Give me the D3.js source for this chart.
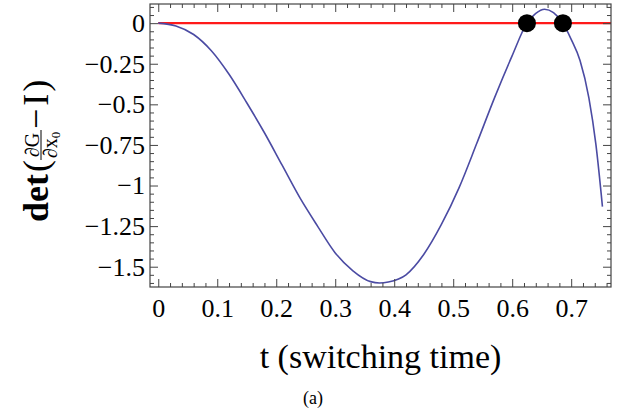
<!DOCTYPE html>
<html>
<head>
<meta charset="utf-8">
<script src="https://cdn.jsdelivr.net/npm/d3@7"></script>
<style>
  body { margin: 0; background: #fff; }
  svg { display: block; }
  text { font-family: "Liberation Serif", "Times New Roman", serif; fill: #000; }
</style>
</head>
<body>
<svg id="chart" width="624" height="413"></svg>
<script>
// switching time t and det(dG/dx0 - I)
var tValues = [0, 0.03, 0.06, 0.09, 0.12, 0.15, 0.18, 0.21, 0.24, 0.27, 0.30, 0.33, 0.36, 0.375,
  0.39, 0.42, 0.45, 0.48, 0.51, 0.54, 0.57, 0.60, 0.625, 0.64, 0.655, 0.67, 0.686, 0.70, 0.715, 0.73, 0.742, 0.753];
var detValues = [0, -0.017, -0.07, -0.17, -0.315, -0.49, -0.675, -0.875, -1.075, -1.25, -1.415, -1.525, -1.592, -1.6,
  -1.594, -1.55, -1.425, -1.24, -1.013, -0.74, -0.46, -0.2, 0, 0.06, 0.086, 0.065, 0, -0.1, -0.23, -0.46, -0.75, -1.13];
var rootTimes = [0.625, 0.686];
var xTicks = [0, 0.1, 0.2, 0.3, 0.4, 0.5, 0.6, 0.7];
var yTicks = [0, -0.25, -0.5, -0.75, -1, -1.25, -1.5];

var svg = d3.select('#chart');
var mLeft = 150, mRight = 611, mTop = 4, mBottom = 287;

var x = d3.scaleLinear().domain([-0.014, 0.7675]).range([mLeft, mRight]);
var y = d3.scaleLinear().domain([-1.625, 0.118]).range([mBottom, mTop]);

var xMinor = d3.range(0, 0.77, 0.02).filter(function (d) { return Math.abs(d * 10 - Math.round(d * 10)) > 1e-6; });
var yMinor = d3.range(0.1, -1.63, -0.05).filter(function (d) { return Math.abs(d * 4 - Math.round(d * 4)) > 1e-6; });

var fmt = function (d) { return d < 0 ? '\u2212' + d3.format('')(-d) : d3.format('')(d); };

// red zero line
svg.append('line')
  .attr('x1', x(0)).attr('x2', mRight)
  .attr('y1', y(0)).attr('y2', y(0))
  .attr('stroke', '#ff1a1a')
  .attr('stroke-width', 2.2);

// determinant curve
var line = d3.line()
  .x(function (d) { return x(d[0]); })
  .y(function (d) { return y(d[1]); })
  .curve(d3.curveMonotoneX);

svg.append('path')
  .datum(d3.zip(tValues, detValues))
  .attr('d', line)
  .attr('fill', 'none')
  .attr('stroke', '#4b4ba3')
  .attr('stroke-width', 1.6);

// roots
svg.selectAll('circle.root')
  .data(rootTimes)
  .enter().append('circle')
  .attr('class', 'root')
  .attr('cx', function (d) { return x(d); })
  .attr('cy', y(0))
  .attr('r', 9)
  .attr('fill', '#000');

// frame ticks, all inward
function addAxis(axis, tx, ty) {
  var g = svg.append('g').attr('transform', 'translate(' + tx + ',' + ty + ')').call(axis);
  g.select('.domain').remove();
  g.selectAll('line').attr('stroke', '#444');
  g.selectAll('text').style('font-family', '"Liberation Serif", serif').attr('fill', '#000');
  return g;
}

var gb = addAxis(d3.axisBottom(x).tickValues(xTicks).tickFormat(fmt).tickSize(-8).tickPadding(12), 0, mBottom);
gb.selectAll('text').style('font-size', '26px');
addAxis(d3.axisBottom(x).tickValues(xMinor).tickFormat('').tickSize(-4), 0, mBottom);
addAxis(d3.axisTop(x).tickValues(xTicks).tickFormat('').tickSize(-8), 0, mTop);
addAxis(d3.axisTop(x).tickValues(xMinor).tickFormat('').tickSize(-4), 0, mTop);

var gl = addAxis(d3.axisLeft(y).tickValues(yTicks).tickFormat(fmt).tickSize(-8).tickPadding(5), mLeft, 0);
gl.selectAll('text').style('font-size', '26px');
addAxis(d3.axisLeft(y).tickValues(yMinor).tickFormat('').tickSize(-4), mLeft, 0);
addAxis(d3.axisRight(y).tickValues(yTicks).tickFormat('').tickSize(-8), mRight, 0);
addAxis(d3.axisRight(y).tickValues(yMinor).tickFormat('').tickSize(-4), mRight, 0);

svg.append('rect')
  .attr('x', mLeft).attr('y', mTop)
  .attr('width', mRight - mLeft).attr('height', mBottom - mTop)
  .attr('fill', 'none')
  .attr('stroke', '#444')
  .attr('stroke-width', 1.2);

// x label
svg.append('text')
  .attr('x', (mLeft + mRight) / 2)
  .attr('y', 368)
  .attr('text-anchor', 'middle')
  .style('font-size', '34px')
  .text('t (switching time)');

svg.append('text')
  .attr('x', 313)
  .attr('y', 404)
  .attr('text-anchor', 'middle')
  .style('font-size', '18px')
  .text('(a)');

// y label: det( dG/dx0 - I ), rotated
var yl = svg.append('g').attr('transform', 'translate(48,222) rotate(-90)');
yl.append('text').attr('x', 0).attr('y', 0)
  .style('font-size', '36px').style('font-weight', 'bold')
  .text('det');
yl.append('text').attr('x', 50).attr('y', 0)
  .style('font-size', '36px')
  .text('(');
yl.append('line')
  .attr('x1', 62).attr('x2', 92)
  .attr('y1', -7).attr('y2', -7)
  .attr('stroke', '#000').attr('stroke-width', 1);
yl.append('text').attr('x', 77).attr('y', -9.5)
  .attr('text-anchor', 'middle')
  .style('font-size', '20px')
  .text('\u2202G');
var den = yl.append('text').attr('x', 77).attr('y', 8.5)
  .attr('text-anchor', 'middle')
  .style('font-size', '20px');
den.append('tspan').text('\u2202x');
den.append('tspan').attr('dy', 3).style('font-size', '13px').text('0');
var tail = yl.append('text').attr('x', 93).attr('y', 0)
  .style('font-size', '36px');
tail.append('tspan').text('\u2212');
tail.append('tspan').attr('dx', 3).text('I');
tail.append('tspan').attr('dx', 2).text(')');
</script>
</body>
</html>
